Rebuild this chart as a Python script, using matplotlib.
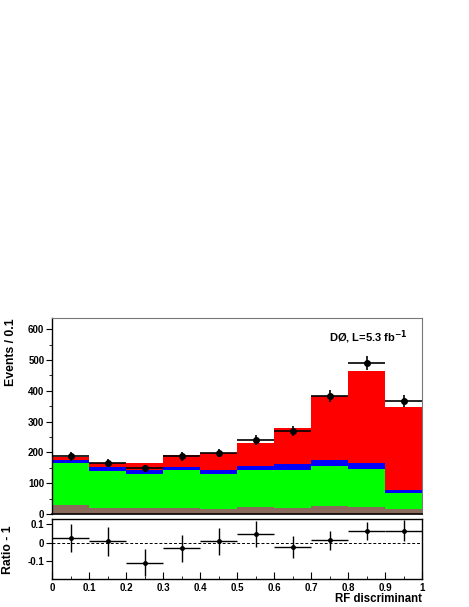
import numpy as np
import matplotlib
matplotlib.use('Agg')
import matplotlib.pyplot as plt
from matplotlib.ticker import MultipleLocator

plt.rcParams['font.family'] = ['Liberation Sans', 'DejaVu Sans']
plt.rcParams['font.weight'] = 'bold'

# bin edges of the RF discriminant
bin_edges = [0.0, 0.1, 0.2, 0.3, 0.4, 0.5, 0.6, 0.7, 0.8, 0.9, 1.0]

# stacked backgrounds (events per bin), bottom to top
brown_bkg = [28, 19, 18, 19, 16, 22, 19, 26, 24, 15]
green_bkg = [136, 121, 113, 123, 113, 120, 125, 130, 122, 52]
blue_bkg = [12, 11, 11, 12, 13, 14, 19, 20, 20, 10]
red_sig = [8, 14, 25, 39, 56, 76, 115, 208, 298, 271]

# data
data_counts = [187, 167, 148, 187, 198, 241, 270, 383, 490, 367]
data_err = [14, 13, 12, 14, 14, 16, 16, 20, 22, 19]

# ratio panel
ratio_vals = [0.024, 0.008, -0.107, -0.031, 0.008, 0.046, -0.022, 0.013, 0.062, 0.064]
ratio_err = [0.076, 0.078, 0.072, 0.072, 0.072, 0.071, 0.059, 0.052, 0.047, 0.057]

edges = np.array(bin_edges)
centres = 0.5 * (edges[:-1] + edges[1:])
half_w = 0.5 * np.diff(edges)

fig = plt.figure(figsize=(4.69, 6.07), dpi=100)
ax = fig.add_axes([0.1109, 0.1532, 0.789, 0.3229])
axr = fig.add_axes([0.1109, 0.0456, 0.789, 0.0988])

# stack
layers = [(brown_bkg, '#8b6b5b'), (green_bkg, '#00ff00'),
          (blue_bkg, '#0000ff'), (red_sig, '#ff0000')]
base = np.zeros(len(centres))
for vals, col in layers:
    top = base + np.array(vals)
    ax.stairs(top, edges, baseline=base, fill=True, color=col, lw=0)
    base = top

ax.errorbar(centres, data_counts, xerr=half_w, yerr=data_err, fmt='o',
            color='black', markersize=4, elinewidth=1.2, capsize=0)

ax.set_xlim(0, 1)
ax.set_ylim(0, 636)
ax.set_xticks([])
ax.yaxis.set_major_locator(MultipleLocator(100))
ax.yaxis.set_minor_locator(MultipleLocator(50))
ax.tick_params(axis='y', which='major', direction='out', length=4.5, pad=1,
               labelsize=7)
ax.tick_params(axis='y', which='minor', direction='out', length=2)
for lbl in ax.get_yticklabels():
    lbl.set_fontweight('bold')
for s in ['top', 'right']:
    ax.spines[s].set_color('#777777')
    ax.spines[s].set_linewidth(0.8)
ax.spines['left'].set_linewidth(1.0)
ax.spines['bottom'].set_linewidth(1.2)

ax.text(0.962, 0.903, 'DØ, L=5.3 fb$^{\\mathbf{-1}}$', transform=ax.transAxes,
        ha='right', va='center', fontsize=8, fontweight='bold')
fig.text(0.023, 0.4761, 'Events / 0.1', rotation=90, ha='center', va='top',
         fontsize=8.8, fontweight='bold')

# ratio
axr.axhline(0, color='black', lw=0.7, ls=(0, (3, 2)))
axr.errorbar(centres, ratio_vals, xerr=half_w, yerr=ratio_err, fmt='o',
             color='black', markersize=2.5, elinewidth=1.0, capsize=0)
axr.set_xlim(0, 1)
axr.set_ylim(-0.196, 0.125)
axr.set_yticks([-0.1, 0, 0.1])
axr.set_yticklabels(['-0.1', '0', '0.1'])
axr.set_xticks(bin_edges)
axr.set_xticklabels(['0', '0.1', '0.2', '0.3', '0.4', '0.5', '0.6', '0.7', '0.8', '0.9', '1'])
axr.xaxis.set_minor_locator(MultipleLocator(0.05))
axr.tick_params(axis='x', which='major', direction='in', length=5,
                labelsize=7, pad=2.5)
axr.tick_params(axis='x', which='minor', direction='in', length=2.5)
axr.tick_params(axis='y', direction='out', length=4.5, pad=1, labelsize=7)
for lbl in axr.get_xticklabels() + axr.get_yticklabels():
    lbl.set_fontweight('bold')
for s in axr.spines.values():
    s.set_linewidth(1.0)

fig.text(0.016, 0.095, 'Ratio - 1', rotation=90, ha='center', va='center',
         fontsize=8.8, fontweight='bold')
fig.text(0.9, 0.003, 'RF discriminant', ha='right', va='bottom',
         fontsize=8.3, fontweight='bold')

fig.savefig('out.png', dpi=100)
